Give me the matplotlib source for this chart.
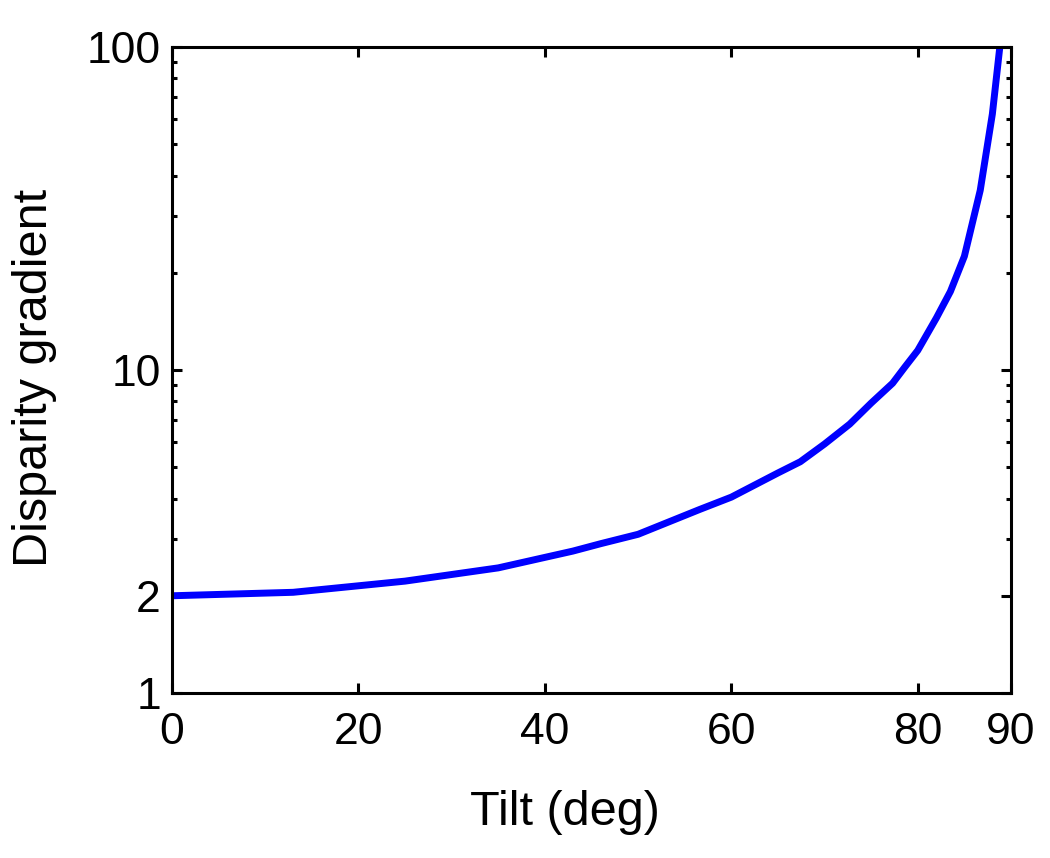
import matplotlib
matplotlib.use("Agg")
import matplotlib.pyplot as plt
from matplotlib.ticker import FixedLocator, NullFormatter

# values
tilt = [0, 13, 25, 35, 43, 46, 50, 56.6, 60, 65, 67.4, 70, 72.7, 75, 77.3,
        78.6, 80, 82, 83.5, 85, 86.7, 88, 88.8]
gradient = [2.0, 2.05, 2.22, 2.44, 2.75, 2.9, 3.1, 3.7, 4.04, 4.8, 5.2, 5.9,
            6.8, 7.9, 9.1, 10.2, 11.5, 14.5, 17.5, 22.5, 36, 62, 100]

xticks = [0, 20, 40, 60, 80, 90]
yticks = [1, 2, 10, 100]
yminor = [3, 4, 5, 6, 7, 8, 9, 20, 30, 40, 50, 60, 70, 80, 90]

plt.rcParams['font.family'] = ['Liberation Sans', 'DejaVu Sans']

fig = plt.figure(figsize=(10.5, 8.58), dpi=100)
ax = fig.add_axes([172/1050, 1 - 693/858, 839/1050, 646/858])
ax.plot(tilt, gradient, color=(0, 0, 1), lw=5, solid_capstyle='round')
ax.set_yscale('log')
ax.set_xlim(0, 90)
ax.set_ylim(1, 100)
ax.set_xticks(xticks)
ax.set_xticklabels([str(t) for t in xticks])
ax.yaxis.set_major_locator(FixedLocator(yticks))
ax.set_yticklabels([str(t) for t in yticks])
ax.yaxis.set_minor_locator(FixedLocator(yminor))
ax.yaxis.set_minor_formatter(NullFormatter())
for s in ax.spines.values():
    s.set_linewidth(2.2)
ax.tick_params(which='both', direction='in', top=True, right=True,
               labelsize=32, width=2.2)
ax.tick_params(which='major', length=7)
ax.tick_params(which='minor', length=3.5)
ax.tick_params(axis='x', which='major', pad=14)
ax.tick_params(axis='y', which='major', pad=8)
ax.set_xlabel('Tilt (deg)', fontsize=35)
ax.set_ylabel('Disparity gradient', fontsize=35)
ax.xaxis.set_label_coords(0.468, -0.150)
ax.yaxis.set_label_coords(-0.137, 0.488)
fig.savefig('out.png', dpi=100)
